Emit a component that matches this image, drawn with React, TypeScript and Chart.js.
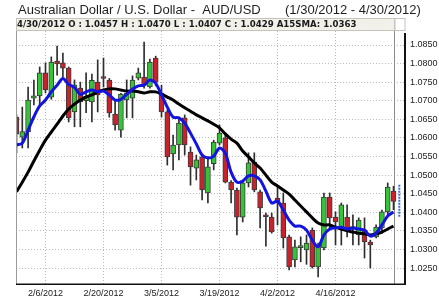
import React, { useEffect, useRef } from 'react';
import { Chart, registerables } from 'chart.js';

Chart.register(...registerables);

const DATES = [
  '1/30/2012', '1/31/2012', '2/1/2012', '2/2/2012', '2/3/2012',
  '2/6/2012', '2/7/2012', '2/8/2012', '2/9/2012', '2/10/2012',
  '2/13/2012', '2/14/2012', '2/15/2012', '2/16/2012', '2/17/2012',
  '2/20/2012', '2/21/2012', '2/22/2012', '2/23/2012', '2/24/2012',
  '2/27/2012', '2/28/2012', '2/29/2012', '3/1/2012', '3/2/2012',
  '3/5/2012', '3/6/2012', '3/7/2012', '3/8/2012', '3/9/2012',
  '3/12/2012', '3/13/2012', '3/14/2012', '3/15/2012', '3/16/2012',
  '3/19/2012', '3/20/2012', '3/21/2012', '3/22/2012', '3/23/2012',
  '3/26/2012', '3/27/2012', '3/28/2012', '3/29/2012', '3/30/2012',
  '4/2/2012', '4/3/2012', '4/4/2012', '4/5/2012', '4/6/2012',
  '4/9/2012', '4/10/2012', '4/11/2012', '4/12/2012', '4/13/2012',
  '4/16/2012', '4/17/2012', '4/18/2012', '4/19/2012', '4/20/2012',
  '4/23/2012', '4/24/2012', '4/25/2012', '4/26/2012', '4/27/2012',
  '4/30/2012',
];

const OPEN = [
  1.0656, 1.0602, 1.0617, 1.0707, 1.0713, 1.0775, 1.0710, 1.0807, 1.0802, 1.0788,
  1.0670, 1.0734, 1.0700, 1.0697, 1.0750, 1.0763, 1.0756, 1.0664, 1.0621, 1.0702,
  1.0707, 1.0761, 1.0764, 1.0737, 1.0815, 1.0721, 1.0670, 1.0557, 1.0581, 1.0654,
  1.0562, 1.0519, 1.0549, 1.0452, 1.0531, 1.0586, 1.0600, 1.0481, 1.0460, 1.0387,
  1.0479, 1.0535, 1.0455, 1.0393, 1.0387, 1.0438, 1.0425, 1.0334, 1.0272, 1.0305,
  1.0299, 1.0352, 1.0253, 1.0304, 1.0441, 1.0387, 1.0358, 1.0387, 1.0360, 1.0339,
  1.0352, 1.0320, 1.0334, 1.0358, 1.0401, 1.0457,
];

const HIGH = [
  1.0662, 1.0683, 1.0737, 1.0756, 1.0791, 1.0802, 1.0818, 1.0847, 1.0828, 1.0791,
  1.0756, 1.0750, 1.0775, 1.0772, 1.0810, 1.0815, 1.0760, 1.0702, 1.0720, 1.0756,
  1.0767, 1.0788, 1.0858, 1.0812, 1.0820, 1.0742, 1.0675, 1.0608, 1.0656, 1.0662,
  1.0576, 1.0554, 1.0554, 1.0549, 1.0594, 1.0635, 1.0608, 1.0485, 1.0465, 1.0481,
  1.0560, 1.0560, 1.0460, 1.0398, 1.0398, 1.0468, 1.0452, 1.0339, 1.0325, 1.0334,
  1.0339, 1.0358, 1.0317, 1.0452, 1.0452, 1.0401, 1.0425, 1.0420, 1.0393, 1.0385,
  1.0385, 1.0325, 1.0366, 1.0406, 1.0479, 1.0470,
];

const LOW = [
  1.0560, 1.0573, 1.0573, 1.0689, 1.0689, 1.0721, 1.0704, 1.0769, 1.0764, 1.0643,
  1.0630, 1.0630, 1.0668, 1.0643, 1.0670, 1.0737, 1.0656, 1.0621, 1.0602, 1.0654,
  1.0654, 1.0756, 1.0734, 1.0734, 1.0740, 1.0656, 1.0527, 1.0514, 1.0541, 1.0554,
  1.0473, 1.0487, 1.0433, 1.0425, 1.0514, 1.0581, 1.0479, 1.0425, 1.0339, 1.0374,
  1.0468, 1.0455, 1.0358, 1.0309, 1.0344, 1.0366, 1.0304, 1.0245, 1.0253, 1.0267,
  1.0260, 1.0250, 1.0226, 1.0299, 1.0352, 1.0312, 1.0312, 1.0334, 1.0312, 1.0312,
  1.0277, 1.0250, 1.0331, 1.0344, 1.0393, 1.0407,
];

const CLOSE = [
  1.0610, 1.0617, 1.0702, 1.0713, 1.0775, 1.0729, 1.0804, 1.0799, 1.0788, 1.0654,
  1.0743, 1.0697, 1.0712, 1.0755, 1.0716, 1.0760, 1.0667, 1.0635, 1.0718, 1.0721,
  1.0756, 1.0775, 1.0742, 1.0804, 1.0750, 1.0670, 1.0549, 1.0581, 1.0640, 1.0581,
  1.0522, 1.0541, 1.0460, 1.0522, 1.0589, 1.0613, 1.0481, 1.0460, 1.0387, 1.0479,
  1.0533, 1.0460, 1.0412, 1.0388, 1.0347, 1.0425, 1.0331, 1.0253, 1.0307, 1.0309,
  1.0317, 1.0253, 1.0312, 1.0441, 1.0385, 1.0374, 1.0420, 1.0358, 1.0356, 1.0379,
  1.0320, 1.0312, 1.0360, 1.0401, 1.0468, 1.0429,
];

// short moving average (blue)
const SMA_FAST = [
  1.0581, 1.0586, 1.0621, 1.0657, 1.0686, 1.0702, 1.0724, 1.0742, 1.0760, 1.0744,
  1.0736, 1.0717, 1.0724, 1.0729, 1.0724, 1.0726, 1.0716, 1.0702, 1.0704, 1.0717,
  1.0731, 1.0740, 1.0742, 1.0756, 1.0747, 1.0716, 1.0683, 1.0656, 1.0654, 1.0640,
  1.0613, 1.0584, 1.0554, 1.0546, 1.0551, 1.0573, 1.0559, 1.0508, 1.0481, 1.0484,
  1.0498, 1.0498, 1.0487, 1.0457, 1.0425, 1.0430, 1.0406, 1.0379, 1.0363, 1.0363,
  1.0352, 1.0325, 1.0307, 1.0339, 1.0355, 1.0358, 1.0360, 1.0355, 1.0358, 1.0355,
  1.0352, 1.0336, 1.0344, 1.0366, 1.0390, 1.0401,
];

// 15-day simple moving average (black)
const SMA15 = [
  1.0455, 1.0481, 1.0508, 1.0538, 1.0567, 1.0594, 1.0616, 1.0637, 1.0659, 1.0678,
  1.0691, 1.0702, 1.0710, 1.0716, 1.0724, 1.0729, 1.0732, 1.0732, 1.0729, 1.0726,
  1.0726, 1.0724, 1.0721, 1.0724, 1.0724, 1.0718, 1.0710, 1.0702, 1.0691, 1.0681,
  1.0672, 1.0662, 1.0654, 1.0646, 1.0637, 1.0627, 1.0611, 1.0597, 1.0586, 1.0565,
  1.0549, 1.0533, 1.0519, 1.0500, 1.0481, 1.0471, 1.0460, 1.0449, 1.0433, 1.0417,
  1.0401, 1.0385, 1.0371, 1.0366, 1.0366, 1.0360, 1.0355, 1.0350, 1.0347, 1.0344,
  1.0342, 1.0339, 1.0342, 1.0347, 1.0355, 1.0363,
];

const TICK_DATES = ['2/6/2012', '2/20/2012', '3/5/2012', '3/19/2012', '4/2/2012', '4/16/2012'];
const Y_TICKS = [1.025, 1.03, 1.035, 1.04, 1.045, 1.05, 1.055, 1.06, 1.065, 1.07, 1.075, 1.08, 1.085];
const LAST_RANGE = [1.0474, 1.0388];

const TITLE = 'Australian Dollar / U.S. Dollar -  AUD/USD';
const PERIOD = '(1/30/2012 - 4/30/2012)';

const W = 439;
const H = 299;
const FONT = '"Liberation Sans", Arial, sans-serif';

export default function App() {
  const ref = useRef<HTMLCanvasElement | null>(null);

  useEffect(() => {
    const canvas = ref.current;
    if (!canvas) return;
    const n = DATES.length;
    const last = n - 1;
    const tickIdx = TICK_DATES.map((d) => DATES.indexOf(d));

    const bodies = OPEN.map((o, i) => ({ x: i, y: [Math.min(o, CLOSE[i]), Math.max(o, CLOSE[i])] }));
    const wicks = LOW.map((l, i) => ({ x: i, y: [l, HIGH[i]] }));
    const bodyColors = OPEN.map((o, i) => (CLOSE[i] >= o ? '#35c435' : '#c8232b'));

    const headerText =
      `${DATES[last]} O : ${OPEN[last].toFixed(4)} H : ${HIGH[last].toFixed(4)} ` +
      `L : ${LOW[last].toFixed(4)} C : ${CLOSE[last].toFixed(4)} A15SMA: ${SMA15[last].toFixed(4)}`;

    const overlay = {
      id: 'overlay',
      beforeDraw(chart: any) {
        const c = chart.ctx;
        c.save();
        c.fillStyle = '#ffffff';
        c.fillRect(0, 0, chart.width, chart.height);
        c.restore();
      },
      beforeDatasetsDraw(chart: any) {
        const c = chart.ctx;
        const xs = chart.scales.x;
        const { bottom } = chart.chartArea;
        const px = Math.round(xs.getPixelForValue(last)) + 0.5;
        c.save();
        c.strokeStyle = '#8a8a8a';
        c.lineWidth = 1;
        c.beginPath();
        c.moveTo(px, 19);
        c.lineTo(px, bottom);
        c.stroke();
        c.restore();
      },
      afterDraw(chart: any) {
        const c = chart.ctx;
        const { left, right, top, bottom } = chart.chartArea;
        const xs = chart.scales.x;
        const crossX = Math.round(xs.getPixelForValue(last)) + 0.5;
        c.save();
        // title
        c.fillStyle = '#1e1e1e';
        c.font = `13px ${FONT}`;
        c.textBaseline = 'alphabetic';
        c.textAlign = 'left';
        c.fillText(TITLE, 18, 14);
        c.fillText(PERIOD, 285, 14);
        // header box
        c.fillStyle = '#f1f0e9';
        c.fillRect(left, 19, crossX - left, 12);
        c.strokeStyle = '#c4c4bc';
        c.lineWidth = 1;
        c.strokeRect(left + 0.5, 18.5, crossX - left, 12);
        c.strokeRect(crossX, 18.5, right - crossX, 12);
        c.fillStyle = '#1a1a1a';
        let fs = 8.6;
        c.font = `bold ${fs}px "DejaVu Sans", sans-serif`;
        const wText = c.measureText(headerText).width;
        fs = fs * (340 / wText);
        c.font = `bold ${fs}px "DejaVu Sans", sans-serif`;
        c.textBaseline = 'middle';
        c.fillText(headerText, 17, 25);
        // left border
        c.strokeStyle = '#9a9a9a';
        c.beginPath();
        c.moveTo(left + 0.5, top);
        c.lineTo(left + 0.5, bottom);
        c.stroke();
        // bottom axis line
        c.strokeStyle = '#111111';
        c.lineWidth = 1.5;
        c.beginPath();
        c.moveTo(left, bottom + 0.25);
        c.lineTo(right + 1, bottom + 0.25);
        c.stroke();
        // right axis line
        c.lineWidth = 2;
        c.beginPath();
        c.moveTo(right, top + 2);
        c.lineTo(right, bottom + 1);
        c.stroke();
        c.restore();
      },
    };

    const chart = new Chart(canvas, {
      type: 'bar',
      data: {
        datasets: [
          {
            type: 'line',
            label: 'Fast SMA',
            data: SMA_FAST.map((v, i) => ({ x: i, y: v })),
            borderColor: '#1414e0',
            borderWidth: 3,
            pointRadius: 0,
            tension: 0.3,
            order: 0,
          } as any,
          {
            type: 'line',
            label: 'A15SMA',
            data: SMA15.map((v, i) => ({ x: i, y: v })),
            borderColor: '#000000',
            borderWidth: 3,
            pointRadius: 0,
            tension: 0.3,
            order: 1,
          } as any,
          {
            type: 'line',
            label: 'Range',
            data: LAST_RANGE.map((v) => ({ x: n, y: v })),
            borderColor: '#3a6fd0',
            borderWidth: 2,
            borderDash: [2, 1],
            pointRadius: 0,
            order: 0,
          } as any,
          {
            type: 'bar',
            label: 'Body',
            data: bodies,
            backgroundColor: bodyColors,
            borderColor: '#3a3a3a',
            borderWidth: 1,
            borderSkipped: false,
            barThickness: 5,
            minBarLength: 2,
            grouped: false,
            order: 2,
          } as any,
          {
            type: 'bar',
            label: 'Wick',
            data: wicks,
            backgroundColor: '#2e2e2e',
            borderWidth: 0,
            barThickness: 1,
            grouped: false,
            order: 3,
          } as any,
        ],
      },
      options: {
        animation: false,
        responsive: false,
        events: [],
        layout: { padding: { left: 16, top: 31, right: 0, bottom: 0 } },
        plugins: {
          legend: { display: false },
          title: { display: false },
          tooltip: { enabled: false },
        },
        scales: {
          x: {
            type: 'linear',
            offset: false,
            min: -0.086,
            max: 66.98,
            grid: { offset: false, color: '#b8b8b8', lineWidth: 1, drawTicks: false, borderDash: [1, 2] },
            border: { display: false, dash: [1, 2] },
            afterBuildTicks: (s: any) => {
              s.ticks = tickIdx.map((v) => ({ value: v }));
            },
            afterFit: (s: any) => {
              s.height = 15;
            },
            ticks: {
              autoSkip: false,
              maxRotation: 0,
              padding: 4,
              color: '#222222',
              font: { family: FONT, size: 9 },
              callback: (v: any) => DATES[Math.round(Number(v))] ?? '',
            },
          },
          y: {
            type: 'linear',
            position: 'right',
            beginAtZero: false,
            min: 1.02071,
            max: 1.08877,
            grid: { color: '#b8b8b8', lineWidth: 1, drawTicks: false, borderDash: [1, 2] },
            border: { display: false, dash: [1, 2] },
            afterBuildTicks: (s: any) => {
              s.ticks = Y_TICKS.map((v) => ({ value: v }));
            },
            afterFit: (s: any) => {
              s.width = 34;
            },
            ticks: {
              padding: 5,
              color: '#222222',
              font: { family: FONT, size: 9 },
              callback: (v: any) => Number(v).toFixed(4),
            },
          },
        },
      } as any,
      plugins: [overlay],
    });

    return () => chart.destroy();
  }, []);

  return (
    <div style={{ position: 'fixed', left: 0, top: 0, width: W, height: H, background: '#fff' }}>
      <canvas ref={ref} width={W} height={H} style={{ display: 'block', width: W, height: H }} />
    </div>
  );
}
